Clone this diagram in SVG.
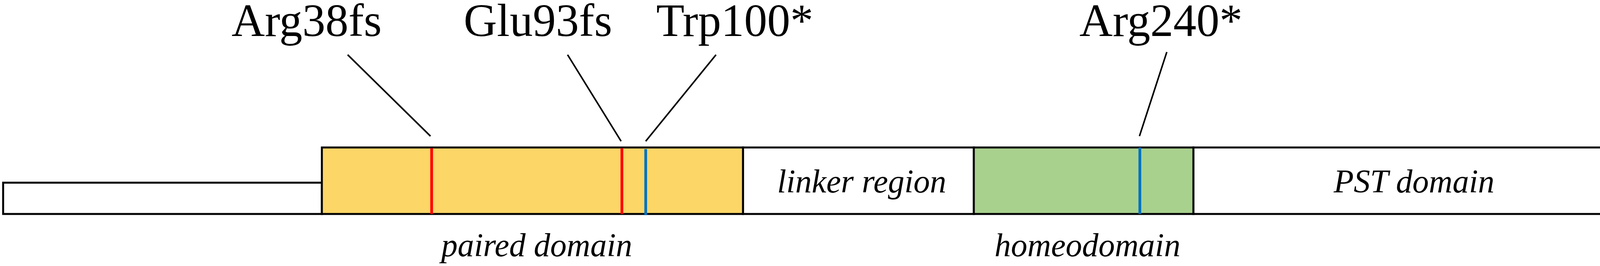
<svg xmlns="http://www.w3.org/2000/svg" width="4317" height="680" viewBox="0 0 4317 680">
<style>
.lbl{font-family:"Liberation Serif",serif;font-size:118px;fill:#000;text-anchor:middle}
.it{font-family:"Liberation Serif",serif;font-style:italic;font-size:84px;fill:#000;text-anchor:middle}
.box{stroke:#000;stroke-width:5}
.lead{stroke:#000;stroke-width:4;fill:none}
.red{stroke:#FF0000;stroke-width:7}
.blue{stroke:#0070C0;stroke-width:7}
</style>
<rect width="4317" height="680" fill="#fff"/>
<g id="nterm"><rect class="box" x="8" y="467" width="816" height="80" fill="#fff"/></g>
<g id="pst"><path class="box" d="M3055 377 H4217 V463 L4307 465 L4275 503 L4307 547 H3055 Z" fill="#fff" stroke-linejoin="miter"/>
<text class="it" x="3620" y="492">PST domain</text></g>
<g id="linker"><rect class="box" x="1902" y="377" width="591" height="170" fill="#fff"/>
<text class="it" x="2206" y="492">linker region</text></g>
<g id="paired"><rect class="box" x="824" y="377" width="1078" height="170" fill="#FCD667"/>
<text class="it" x="1374" y="655">paired domain</text></g>
<g id="homeo"><rect class="box" x="2493" y="377" width="562" height="170" fill="#A9D18E"/>
<text class="it" x="2784" y="655">homeodomain</text></g>
<g id="mutations">
<line class="red" x1="1105" y1="379" x2="1105" y2="547"/>
<line class="red" x1="1592" y1="379" x2="1592" y2="547"/>
<line class="blue" x1="1653" y1="381" x2="1653" y2="550"/>
<line class="blue" x1="2918" y1="377" x2="2918" y2="547"/>
</g>
<g id="connectors">
<line class="lead" x1="890" y1="140" x2="1102" y2="348"/>
<line class="lead" x1="1453" y1="140" x2="1590" y2="361"/>
<line class="lead" x1="1833" y1="140" x2="1653" y2="361"/>
<line class="lead" x1="2987" y1="133" x2="2917" y2="348"/>
</g>
<g id="labels">
<text class="lbl" x="785" y="92">Arg38fs</text>
<text class="lbl" x="1377" y="92">Glu93fs</text>
<text class="lbl" x="1881" y="92">Trp100*</text>
<text class="lbl" x="2972" y="92">Arg240*</text>
</g>
</svg>
